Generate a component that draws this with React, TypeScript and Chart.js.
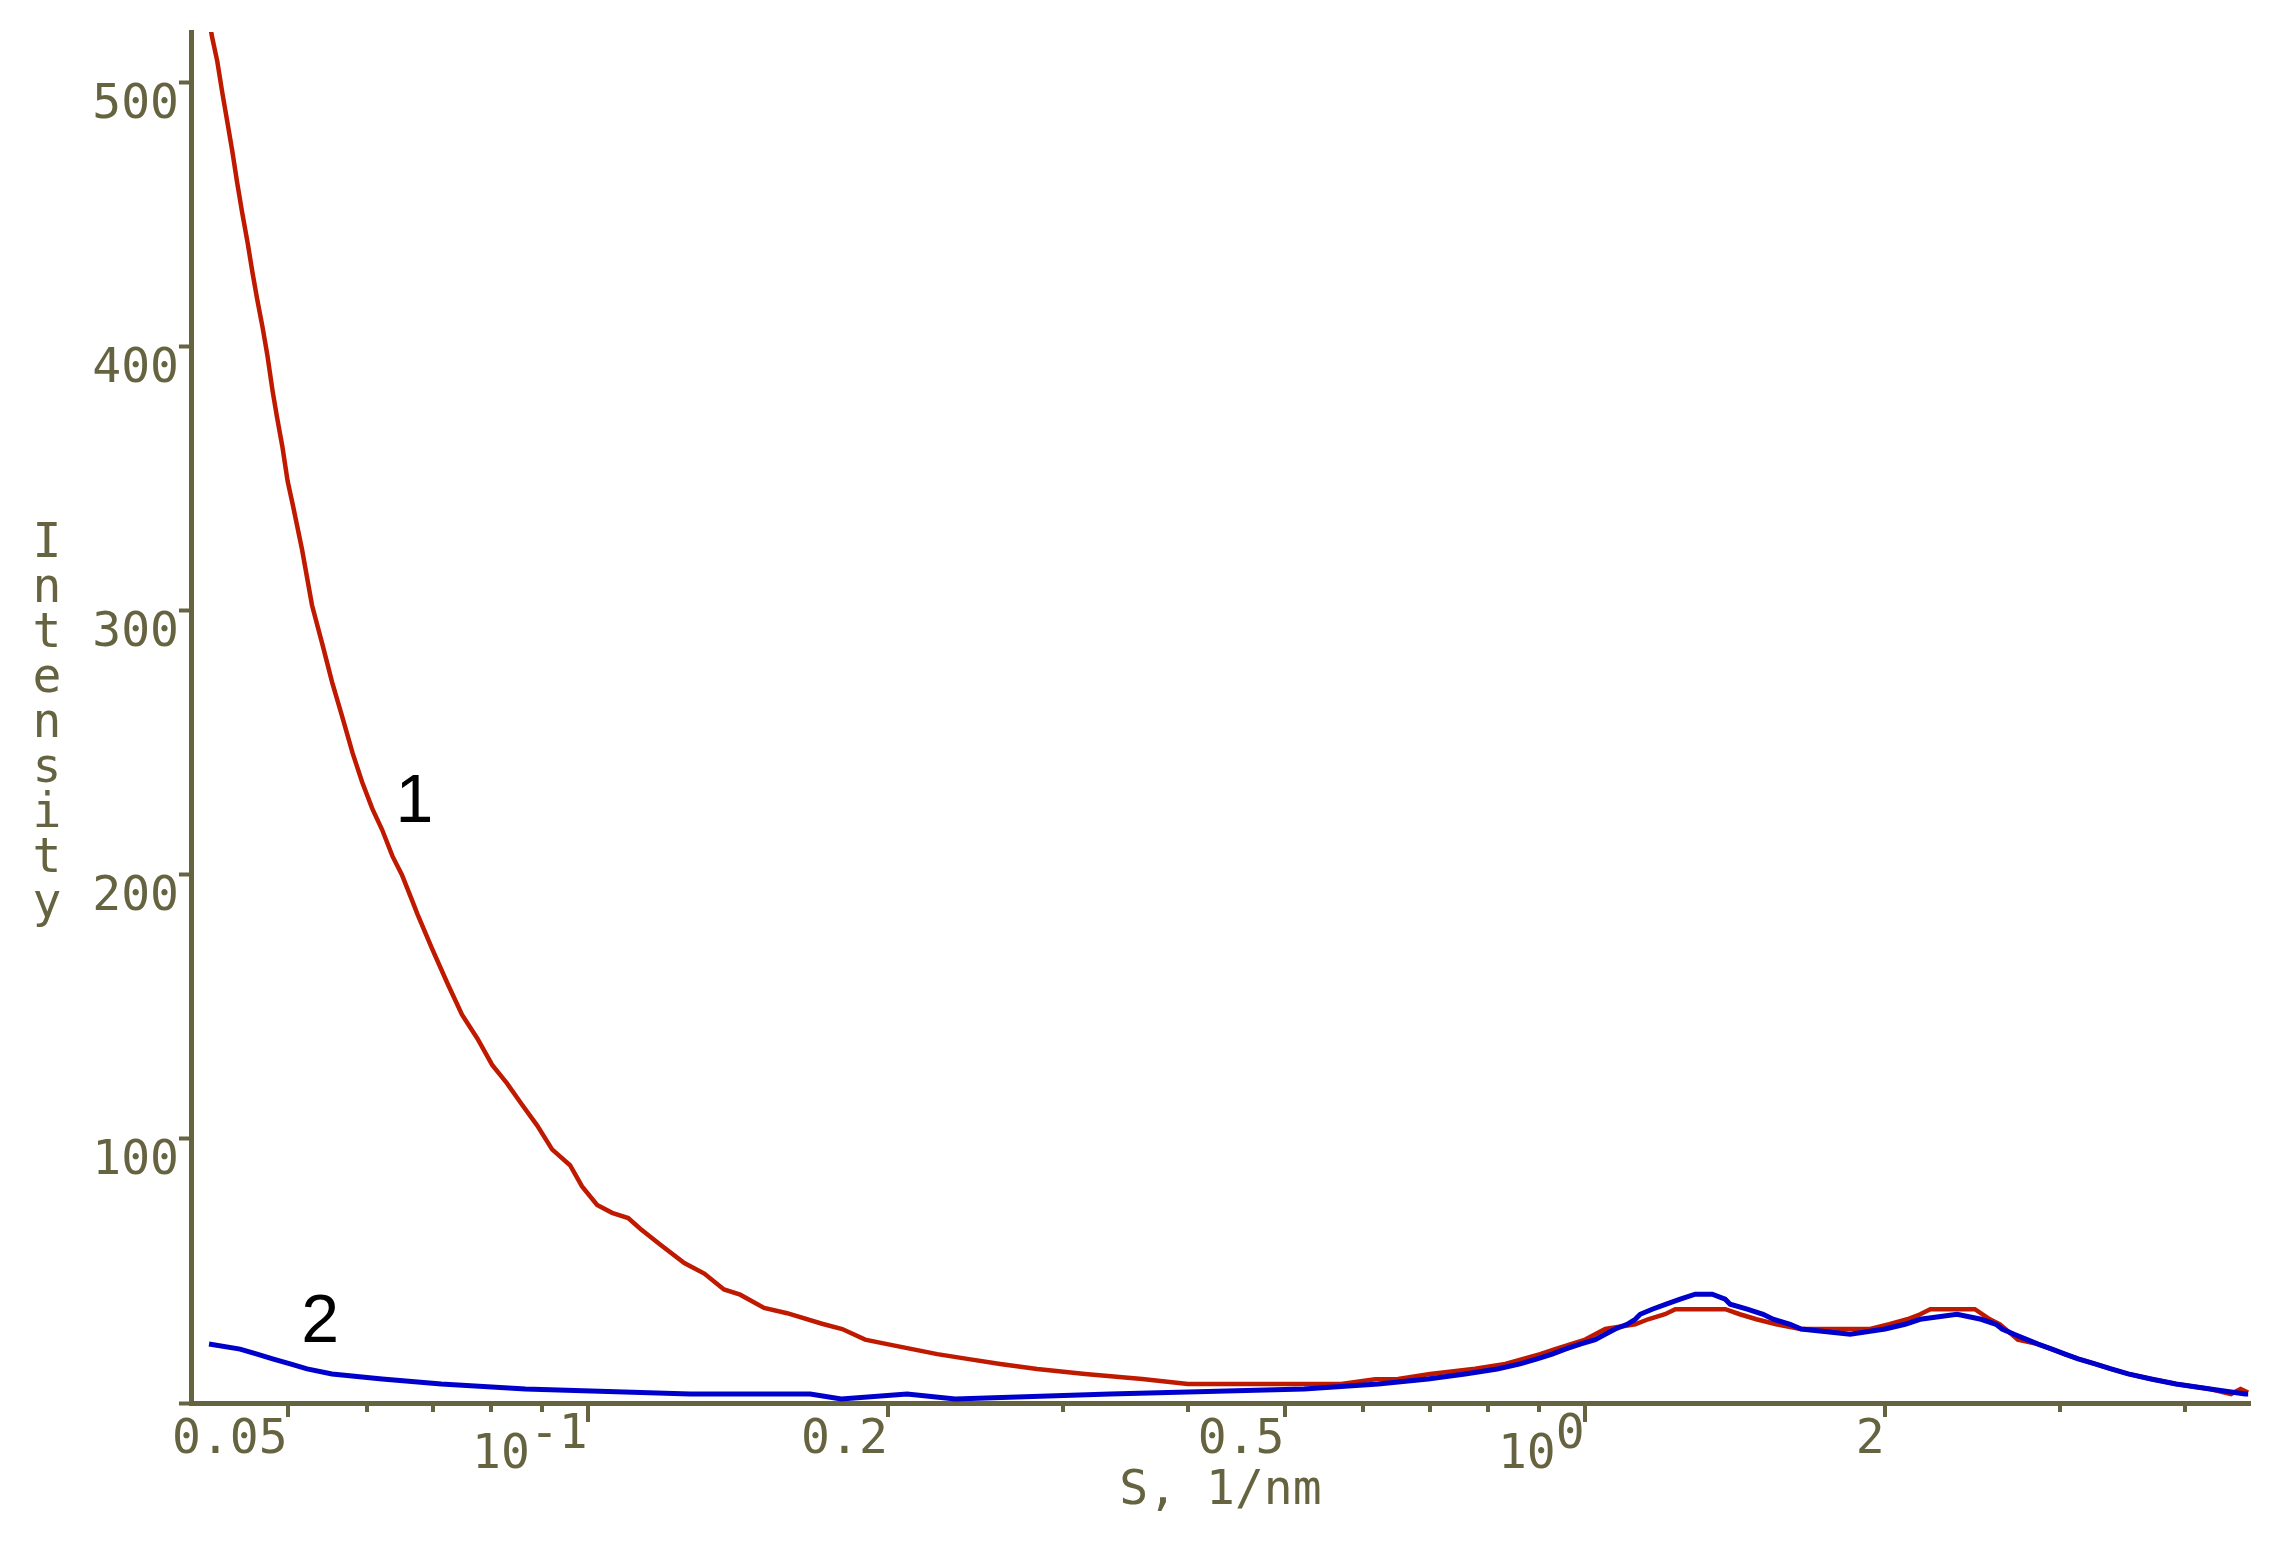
import React, { useEffect, useRef } from 'react';
import { Chart, registerables } from 'chart.js';

Chart.register(...registerables);

// ---- data (S in 1/nm, Intensity) ----
const sRed = [
  0.0416, 0.0420, 0.0425, 0.0430, 0.0435, 0.0440, 0.0445, 0.0450, 0.0456, 0.0461,
  0.0466, 0.0472, 0.0477, 0.0483, 0.0488, 0.0494, 0.0500, 0.0506, 0.0517, 0.0529,
  0.0542, 0.0554, 0.0567, 0.0581, 0.0594, 0.0608, 0.0622, 0.0637, 0.0651, 0.0667,
  0.0675, 0.0698, 0.0723, 0.0748, 0.0775, 0.0802, 0.0830, 0.0859, 0.0890, 0.0921,
  0.0960, 0.0987, 0.1022, 0.1058, 0.1098, 0.1129, 0.1182, 0.1250, 0.1309, 0.1370,
  0.1422, 0.1503, 0.1585, 0.1718, 0.1800, 0.1898, 0.1997, 0.2116, 0.2242, 0.2403,
  0.2593, 0.2824, 0.3155, 0.3599, 0.4000, 0.5700, 0.6164, 0.6500, 0.6999, 0.7765,
  0.8324, 0.9024, 0.9343, 1.0014, 1.0488, 1.124, 1.158, 1.204, 1.233, 1.384,
  1.431, 1.487, 1.557, 1.646, 1.934, 2.021, 2.107, 2.171, 2.222, 2.463,
  2.55, 2.61, 2.72, 2.85, 2.94, 3.03, 3.13, 3.25, 3.37, 3.51,
  3.70, 3.92, 4.24, 4.45, 4.55, 4.63,
];
const iRed = [
  526, 517, 508, 496, 485, 474, 462, 451, 439, 428,
  418, 407, 397, 383, 373, 362, 349, 340, 323, 302,
  287, 273, 260, 246, 235, 225, 217, 207, 200, 190,
  185, 172, 159, 147, 138, 128, 121, 113, 105, 96,
  90, 82, 75, 72, 70, 66, 60, 53, 49, 43,
  41, 36, 34, 30, 28, 24, 22.3, 20.4, 18.5, 16.7,
  14.8, 12.9, 11.0, 9.1, 7.2, 7.2, 9.0, 9.1, 11, 13,
  14.8, 18.5, 20.4, 24, 28, 29.8, 31.7, 33.6, 35.5, 35.5,
  33.6, 31.7, 29.8, 28, 28, 29.8, 31.7, 33.6, 35.5, 35.5,
  31.7, 29.8, 24, 22.3, 20.4, 18.5, 16.7, 14.8, 12.9, 11,
  9.1, 7.2, 5.3, 3.4, 5.3, 4,
];

const sBlue = [
  0.0417, 0.0448, 0.0466, 0.0483, 0.0503, 0.0523, 0.0554, 0.0622, 0.0713, 0.0866,
  0.1267, 0.1672, 0.1796, 0.2091, 0.2337, 0.3342, 0.5233, 0.6208, 0.6966, 0.7590,
  0.8172, 0.8616, 0.8962, 0.9279, 0.9562, 0.9899, 1.0247, 1.0488, 1.0732, 1.1033,
  1.1240, 1.1370, 1.1690, 1.2074, 1.2471, 1.2911, 1.3428, 1.3836, 1.3996, 1.4557,
  1.5104, 1.5456, 1.6076, 1.6490, 1.8466, 2.0018, 2.0962, 2.1705, 2.3640, 2.4985,
  2.5868, 2.6230, 2.6965, 2.7788, 2.8502, 2.9436, 3.0339, 3.1262, 3.2514, 3.3742,
  3.5094, 3.7002, 3.9201, 4.2406, 4.5979, 4.63,
];
const iBlue = [
  22.3, 20.4, 18.5, 16.7, 14.8, 12.9, 11.0, 9.1, 7.2, 5.3,
  3.4, 3.4, 1.5, 3.4, 1.5, 3.4, 5.3, 7.2, 9.1, 11.0,
  12.9, 14.8, 16.7, 18.5, 20.4, 22.3, 24, 26, 28, 29.8,
  31.7, 33.6, 35.5, 37.4, 39.3, 41.2, 41.2, 39.3, 37.4, 35.5,
  33.6, 31.7, 29.8, 28, 26, 28, 29.8, 31.7, 33.6, 31.7,
  29.8, 28, 26, 24, 22.3, 20.4, 18.5, 16.7, 14.8, 12.9,
  11, 9.1, 7.2, 5.3, 3.4, 3.4,
];

const xMajorTicks = [0.05, 0.1, 0.2, 0.5, 1, 2];
const xDecadeTicks = [0.1, 1];
const xMinorTicks = [0.06, 0.07, 0.08, 0.09, 0.3, 0.4, 0.6, 0.7, 0.8, 0.9, 3, 4];
const yTicks = [0, 100, 200, 300, 400, 500];

const curveLabels = ['1', '2'];
const curveLabelS = [0.0670, 0.0539];
const curveLabelI = [220, 23];

const yTitle = 'Intensity';
const xTitle = 'S, 1/nm';

// ---- styles ----
const OLIVE = '#666440';
const RED = '#bf1a00';
const BLUE = '#0000cc';
const MONO = '"DejaVu Sans Mono", "Liberation Mono", monospace';

function xTickLabel(v: number): string | string[] {
  if (v === 0.1) return ['  -1', '10  '];
  if (v === 1) return ['0', '10 '];
  return String(v);
}

const decorPlugin = {
  id: 'decor',
  afterDraw(chart: any) {
    const ctx = chart.ctx as CanvasRenderingContext2D;
    const xs = chart.scales.x;
    const ys = chart.scales.y;
    const area = chart.chartArea;
    ctx.save();
    // x tick marks
    ctx.strokeStyle = OLIVE;
    ctx.lineWidth = 4;
    const drawTick = (v: number, len: number) => {
      const px = Math.round(xs.getPixelForValue(v));
      ctx.beginPath();
      ctx.moveTo(px, area.bottom);
      ctx.lineTo(px, area.bottom + len);
      ctx.stroke();
    };
    xMajorTicks.forEach((v) => drawTick(v, xDecadeTicks.includes(v) ? 19 : 14));
    xMinorTicks.forEach((v) => drawTick(v, 9));

    // stacked y title
    ctx.fillStyle = OLIVE;
    ctx.font = `48px ${MONO}`;
    ctx.textAlign = 'center';
    ctx.textBaseline = 'alphabetic';
    yTitle.split('').forEach((ch, k) => {
      ctx.fillText(ch, area.left - 144, area.top + 525 + 45 * k);
    });

    // curve numbers
    ctx.fillStyle = '#000000';
    ctx.font = '68px "Liberation Sans", Arial, sans-serif';
    curveLabels.forEach((t, i) => {
      ctx.fillText(t, xs.getPixelForValue(curveLabelS[i]), ys.getPixelForValue(curveLabelI[i]));
    });
    ctx.restore();
  },
};

export default function App() {
  const ref = useRef<HTMLCanvasElement | null>(null);

  useEffect(() => {
    if (!ref.current) return;
    const chart = new Chart(ref.current, {
      type: 'line',
      data: {
        datasets: [
          {
            label: '1',
            data: sRed.map((s, i) => ({ x: s, y: iRed[i] })),
            borderColor: RED,
            borderWidth: 4.5,
            pointRadius: 0,
            tension: 0,
            fill: false,
            order: 2,
          },
          {
            label: '2',
            data: sBlue.map((s, i) => ({ x: s, y: iBlue[i] })),
            borderColor: BLUE,
            borderWidth: 5,
            pointRadius: 0,
            tension: 0,
            fill: false,
            order: 1,
          },
        ],
      },
      options: {
        responsive: false,
        animation: false,
        devicePixelRatio: 1,
        layout: { padding: { top: 32, right: 37, left: 0, bottom: 0 } },
        plugins: {
          legend: { display: false },
          tooltip: { enabled: false },
          title: { display: false },
        },
        scales: {
          x: {
            type: 'logarithmic',
            min: 0.04,
            max: 4.65,
            afterFit: (scale: any) => {
              scale.height = 142;
            },
            afterBuildTicks: (scale: any) => {
              scale.ticks = xMajorTicks.map((v) => ({ value: v }));
            },
            grid: {
              display: true,
              drawOnChartArea: false,
              drawTicks: true,
              tickLength: 14,
              tickColor: 'rgba(0,0,0,0)',
            },
            border: { display: true, color: OLIVE, width: 5 },
            ticks: {
              autoSkip: false,
              maxRotation: 0,
              minRotation: 0,
              align: 'end',
              padding: 9,
              color: OLIVE,
              font: (c: any) => {
                const v = c.tick ? c.tick.value : 0;
                const exp = xDecadeTicks.includes(v);
                return { family: MONO, size: 48, lineHeight: exp ? '20px' : '30px' };
              },
              callback: (value: any) => xTickLabel(Number(value)),
            },
            title: {
              display: true,
              text: xTitle,
              color: OLIVE,
              font: { family: MONO, size: 48 },
              padding: { top: 0, bottom: 25 },
            },
          },
          y: {
            type: 'linear',
            min: 0,
            max: 519,
            afterFit: (scale: any) => {
              scale.width = 191;
            },
            afterBuildTicks: (scale: any) => {
              scale.ticks = yTicks.map((v) => ({ value: v }));
            },
            grid: {
              display: true,
              drawOnChartArea: false,
              drawTicks: true,
              tickLength: 12,
              tickWidth: 4,
              tickColor: OLIVE,
            },
            border: { display: true, color: OLIVE, width: 5 },
            ticks: {
              padding: 0,
              labelOffset: 23,
              color: OLIVE,
              font: { family: MONO, size: 48 },
              callback: (value: any) => (Number(value) === 0 ? '' : String(value)),
            },
            title: { display: false },
          },
        },
      },
      plugins: [decorPlugin],
    });
    return () => chart.destroy();
  }, []);

  return (
    <div style={{ position: 'absolute', left: 0, top: 0, width: 2287, height: 1545, background: '#ffffff' }}>
      <canvas ref={ref} width={2287} height={1545} style={{ display: 'block' }} />
    </div>
  );
}
